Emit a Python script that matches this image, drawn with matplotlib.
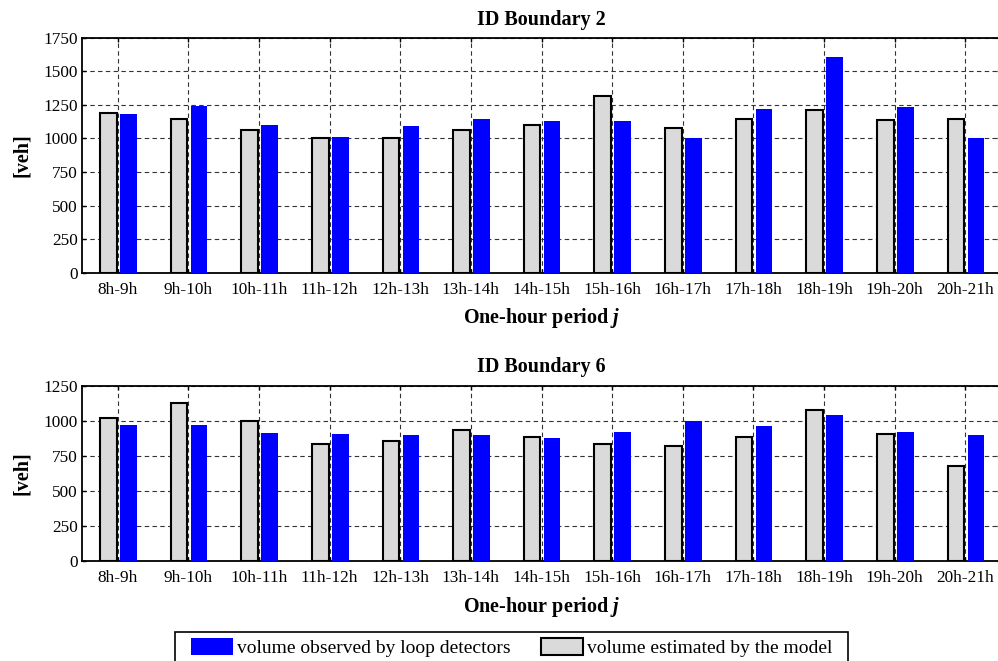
import numpy as np
import matplotlib.pyplot as plt
from matplotlib.patches import Patch, Rectangle

# one-hour periods
periods = ['8h-9h', '9h-10h', '10h-11h', '11h-12h', '12h-13h', '13h-14h', '14h-15h',
           '15h-16h', '16h-17h', '17h-18h', '18h-19h', '19h-20h', '20h-21h']

# ID Boundary 2
est_b2 = [1186, 1147, 1062, 1000, 1000, 1062, 1097, 1313, 1077, 1147, 1209, 1134, 1147]
obs_b2 = [1179, 1241, 1097, 1008, 1092, 1144, 1127, 1127, 1003, 1216, 1603, 1231, 1003]

# ID Boundary 6
est_b6 = [1022, 1129, 996, 835, 859, 937, 882, 837, 818, 885, 1077, 908, 678]
obs_b6 = [968, 968, 911, 906, 897, 897, 875, 918, 999, 963, 1039, 918, 897]

plt.rcParams['font.family'] = ['Liberation Serif']
plt.rcParams['mathtext.fontset'] = 'custom'
plt.rcParams['mathtext.it'] = 'Liberation Serif:italic:bold'
plt.rcParams['mathtext.rm'] = 'Liberation Serif:bold'

fig = plt.figure(figsize=(9.98, 6.61), dpi=100)
ax1 = fig.add_axes([0.0826, 0.5874, 0.920, 0.3555])
ax2 = fig.add_axes([0.0826, 0.1508, 0.920, 0.2657])

x = np.arange(len(periods))
w = 0.236
grey = '#dadada'
blue = '#0000ff'


def draw(ax, est, obs, title, ymax):
    ax.bar(x - 0.133, est, width=w, color=grey, edgecolor='black', linewidth=1.5, zorder=3)
    ax.bar(x + 0.15, obs, width=w, color=blue, linewidth=0, zorder=3)
    ax.set_xlim(-0.5, len(periods) - 0.5)
    ax.set_ylim(0, ymax)
    ax.set_yticks(np.arange(0, ymax + 1, 250))
    ax.set_xticks(x)
    ax.set_xticklabels(periods, fontsize=12.4)
    ax.tick_params(axis='y', labelsize=12.4)
    ax.tick_params(direction='in', length=3, top=True, right=True, width=1)
    ax.tick_params(axis='x', pad=6.5)
    ax.grid(True, color='0.2', linestyle=(0, (4, 3)), linewidth=0.8, zorder=1)
    for s in ax.spines.values():
        s.set_linewidth(1.3)
    ax.set_title(title, fontsize=14.5, fontweight='bold', pad=9.5)
    ax.set_ylabel('[veh]', fontsize=14.5, fontweight='bold', labelpad=8)
    ax.set_xlabel('One-hour period $j$', fontsize=14.5, fontweight='bold', labelpad=6)


draw(ax1, est_b2, obs_b2, 'ID Boundary 2', 1750)
draw(ax2, est_b6, obs_b6, 'ID Boundary 6', 1250)

handles = [Patch(facecolor=blue, edgecolor='none', label='volume observed by loop detectors'),
           Patch(facecolor=grey, edgecolor='black', linewidth=1.5, label='volume estimated by the model')]
leg = fig.legend(handles=handles, loc='upper center', bbox_to_anchor=(0.5125, 1 - 632 / 661),
                 ncol=2, fontsize=14, frameon=False, borderaxespad=0,
                 handlelength=2.16, handleheight=1.0, handletextpad=0.2, columnspacing=1.55,
                 borderpad=0.3)

# legend frame: wider side padding than the top
fig.canvas.draw()
bb = leg.get_window_extent().transformed(fig.transFigure.inverted())
padx = 10 / 998
fig.add_artist(Rectangle((bb.x0 - padx, bb.y0), bb.width + 2 * padx, bb.height,
                         transform=fig.transFigure, facecolor='white', edgecolor='black',
                         linewidth=1.2, zorder=-1))

fig.savefig('out.png', dpi=100)
